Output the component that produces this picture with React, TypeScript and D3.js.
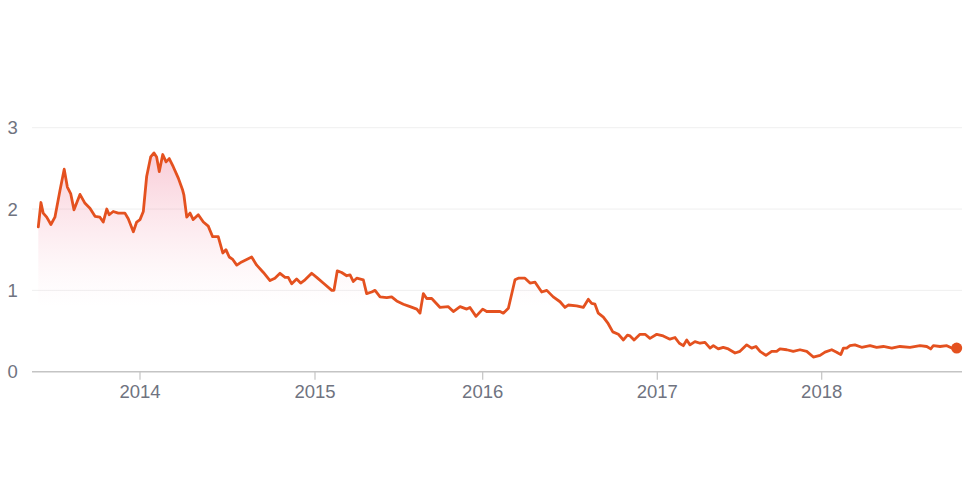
import React from "react";
import * as d3 from "d3";

// decimal-year dates of each observation
const dates: number[] = [
  2013.419, 2013.434, 2013.447, 2013.467, 2013.491, 2013.514, 2013.543, 2013.567, 2013.585, 2013.604,
  2013.623, 2013.657, 2013.686, 2013.714, 2013.743, 2013.771, 2013.790, 2013.810, 2013.824, 2013.847,
  2013.876, 2013.914, 2013.933, 2013.962, 2013.981, 2014.000, 2014.019, 2014.038, 2014.061, 2014.080,
  2014.095, 2014.110, 2014.130, 2014.149, 2014.167, 2014.190, 2014.219, 2014.244, 2014.251, 2014.267,
  2014.286, 2014.304, 2014.333, 2014.362, 2014.390, 2014.415, 2014.447, 2014.473, 2014.491, 2014.510,
  2014.530, 2014.553, 2014.581, 2014.638, 2014.667, 2014.705, 2014.743, 2014.771, 2014.800, 2014.829,
  2014.847, 2014.867, 2014.895, 2014.918, 2014.943, 2014.981, 2015.010, 2015.049, 2015.100, 2015.113,
  2015.133, 2015.159, 2015.189, 2015.209, 2015.228, 2015.249, 2015.288, 2015.308, 2015.338, 2015.358,
  2015.388, 2015.428, 2015.457, 2015.487, 2015.527, 2015.567, 2015.607, 2015.626, 2015.646, 2015.666,
  2015.696, 2015.746, 2015.795, 2015.825, 2015.865, 2015.905, 2015.924, 2015.960, 2016.000, 2016.023,
  2016.099, 2016.118, 2016.147, 2016.185, 2016.204, 2016.242, 2016.271, 2016.300, 2016.338, 2016.367,
  2016.404, 2016.443, 2016.471, 2016.490, 2016.538, 2016.576, 2016.605, 2016.624, 2016.643, 2016.662,
  2016.691, 2016.719, 2016.745, 2016.777, 2016.806, 2016.829, 2016.844, 2016.867, 2016.901, 2016.930,
  2016.958, 2016.997, 2017.036, 2017.077, 2017.108, 2017.134, 2017.158, 2017.179, 2017.199, 2017.229,
  2017.260, 2017.290, 2017.321, 2017.341, 2017.371, 2017.401, 2017.432, 2017.473, 2017.503, 2017.544,
  2017.574, 2017.600, 2017.625, 2017.661, 2017.696, 2017.726, 2017.746, 2017.787, 2017.827, 2017.868,
  2017.909, 2017.949, 2017.990, 2018.020, 2018.061, 2018.091, 2018.116, 2018.132, 2018.152, 2018.172,
  2018.202, 2018.243, 2018.294, 2018.334, 2018.375, 2018.426, 2018.476, 2018.537, 2018.598, 2018.639,
  2018.663, 2018.679, 2018.720, 2018.761, 2018.791, 2018.821,
];

const values: number[] = [
  1.78, 2.08, 1.95, 1.90, 1.81, 1.90, 2.23, 2.49, 2.27, 2.19,
  1.99, 2.18, 2.07, 2.01, 1.91, 1.90, 1.84, 2.00, 1.93, 1.97,
  1.95, 1.95, 1.88, 1.72, 1.84, 1.87, 1.97, 2.40, 2.64, 2.69,
  2.64, 2.46, 2.67, 2.58, 2.62, 2.52, 2.38, 2.23, 2.17, 1.90,
  1.95, 1.87, 1.93, 1.84, 1.79, 1.66, 1.66, 1.46, 1.50, 1.41,
  1.38, 1.31, 1.35, 1.41, 1.31, 1.22, 1.12, 1.15, 1.21, 1.16,
  1.16, 1.08, 1.14, 1.09, 1.13, 1.21, 1.16, 1.09, 1.00, 1.00,
  1.24, 1.22, 1.18, 1.19, 1.11, 1.15, 1.13, 0.96, 0.98, 1.00,
  0.92, 0.91, 0.92, 0.87, 0.83, 0.80, 0.77, 0.72, 0.96, 0.90,
  0.90, 0.79, 0.80, 0.74, 0.80, 0.77, 0.79, 0.68, 0.77, 0.74,
  0.74, 0.72, 0.78, 1.13, 1.15, 1.15, 1.09, 1.10, 0.98, 1.00,
  0.92, 0.86, 0.79, 0.82, 0.81, 0.79, 0.89, 0.84, 0.83, 0.72,
  0.67, 0.59, 0.49, 0.46, 0.39, 0.45, 0.44, 0.39, 0.46, 0.46,
  0.41, 0.46, 0.44, 0.40, 0.42, 0.35, 0.32, 0.39, 0.33, 0.37,
  0.35, 0.36, 0.29, 0.32, 0.28, 0.30, 0.28, 0.23, 0.25, 0.33,
  0.29, 0.31, 0.25, 0.20, 0.25, 0.25, 0.28, 0.27, 0.25, 0.27,
  0.25, 0.18, 0.20, 0.24, 0.27, 0.24, 0.21, 0.29, 0.29, 0.32,
  0.33, 0.30, 0.32, 0.30, 0.31, 0.29, 0.31, 0.30, 0.32, 0.31,
  0.28, 0.32, 0.31, 0.32, 0.29, 0.29,
];

const yTicks: number[] = [0, 1, 2, 3];
const xTickYears: number[] = [2014, 2015, 2016, 2017, 2018];

const toDate = (d: number): Date => {
  const y = Math.floor(d);
  const s = new Date(y, 0, 1).getTime();
  const e = new Date(y + 1, 0, 1).getTime();
  return new Date(s + (d - y) * (e - s));
};

const W = 970;
const H = 495;
const LINE = "#e4511f";
const TEXT = "#6f7380";

export default function App() {
  const data = dates.map((d, i) => ({ date: toDate(d), value: values[i] }));
  const first = data[0].date;
  const last = data[data.length - 1].date;

  const x = d3
    .scaleTime()
    .domain([first, ...xTickYears.map((y) => new Date(y, 0, 1)), last])
    .range([38.3, 140, 315, 482.7, 657.3, 821.7, 956.7]);
  const y = d3.scaleLinear().domain([0, 3]).range([371.7, 127.7]);

  const line = d3
    .line<{ date: Date; value: number }>()
    .x((d) => x(d.date))
    .y((d) => y(d.value))
    .curve(d3.curveLinear);
  const area = d3
    .area<{ date: Date; value: number }>()
    .x((d) => x(d.date))
    .y0(y(0))
    .y1((d) => y(d.value));

  const gridX0 = 32;
  const gridX1 = 962;
  const lastPt = data[data.length - 1];

  return (
    <svg
      width={W}
      height={H}
      style={{ position: "absolute", left: 0, top: 0, background: "#fff" }}
      fontFamily="Arial, 'Liberation Sans', sans-serif"
    >
      <defs>
        <linearGradient id="fillGrad" gradientUnits="userSpaceOnUse" x1="0" x2="0" y1={y(2.75)} y2={y(0.8)}>
          <stop offset="0" stopColor="#f07c98" stopOpacity={0.4} />
          <stop offset="0.6" stopColor="#f49ab0" stopOpacity={0.15} />
          <stop offset="1" stopColor="#f8c0cd" stopOpacity={0} />
        </linearGradient>
      </defs>

      {yTicks.map((t) => (
        <g key={t}>
          {t > 0 && (
            <line x1={gridX0} x2={gridX1} y1={y(t)} y2={y(t)} stroke="#efefef" strokeWidth={1} />
          )}
          <text x={7.5} y={y(t)} dy="0.36em" fontSize={18.5} fill={TEXT}>
            {t}
          </text>
        </g>
      ))}

      <path d={area(data) ?? ""} fill="url(#fillGrad)" />

      <line x1={gridX0} x2={gridX1} y1={y(0)} y2={y(0)} stroke="#c4c4c4" strokeWidth={1.5} />
      {xTickYears.map((yr) => {
        const px = x(new Date(yr, 0, 1));
        return (
          <g key={yr}>
            <line x1={px} x2={px} y1={y(0)} y2={y(0) + 8} stroke="#c4c4c4" strokeWidth={1.2} />
            <text x={px} y={398} textAnchor="middle" fontSize={18.5} fill={TEXT}>
              {yr}
            </text>
          </g>
        );
      })}

      <path d={line(data) ?? ""} fill="none" stroke={LINE} strokeWidth={2.8} strokeLinejoin="round" strokeLinecap="round" />
      <circle cx={x(lastPt.date)} cy={y(lastPt.value)} r={5.5} fill={LINE} />
    </svg>
  );
}
